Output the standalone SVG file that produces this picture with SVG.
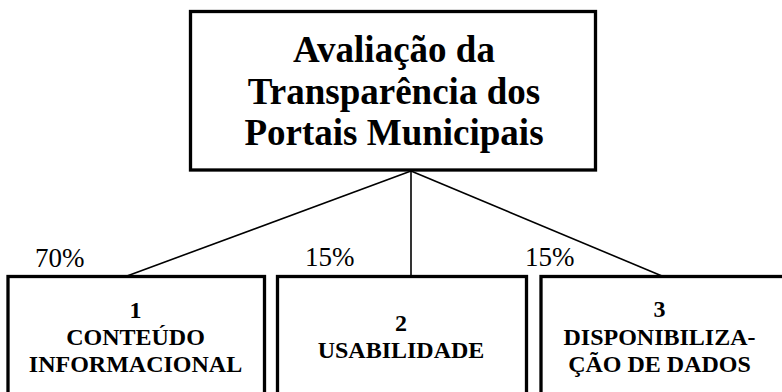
<svg xmlns="http://www.w3.org/2000/svg" width="782" height="392" viewBox="0 0 782 392">
<style>
.box{fill:#fff;stroke:#000;stroke-width:3.3}
.con{stroke:#000;stroke-width:1.6;fill:none}
</style>
<rect width="782" height="392" fill="#fff"/>
<g id="connectors">
<line class="con" x1="411" y1="171" x2="127" y2="276"/>
<line class="con" x1="411" y1="171" x2="411" y2="276"/>
<line class="con" x1="411" y1="171" x2="662" y2="276"/>
</g>
<g id="root">
<rect class="box" x="190.5" y="11.5" width="405" height="158.5"/>
<text x="394" y="62" font-family="Liberation Serif" font-size="37" font-weight="bold" text-anchor="middle">Avaliação da</text>
<text x="394" y="104" font-family="Liberation Serif" font-size="37" font-weight="bold" text-anchor="middle">Transparência dos</text>
<text x="394" y="145" font-family="Liberation Serif" font-size="37" font-weight="bold" text-anchor="middle">Portais Municipais</text>
</g>
<g id="node1">
<rect class="box" x="8" y="276.5" width="256.5" height="130"/>
<text x="135.5" y="318" font-family="Liberation Serif" font-size="24" font-weight="bold" text-anchor="middle">1</text>
<text x="135.5" y="345" font-family="Liberation Serif" font-size="24" font-weight="bold" text-anchor="middle">CONTEÚDO</text>
<text x="135.5" y="372" font-family="Liberation Serif" font-size="24" font-weight="bold" text-anchor="middle">INFORMACIONAL</text>
</g>
<g id="node2">
<rect class="box" x="277.5" y="276.5" width="249" height="130"/>
<text x="401" y="331" font-family="Liberation Serif" font-size="24" font-weight="bold" text-anchor="middle">2</text>
<text x="401" y="358" font-family="Liberation Serif" font-size="24" font-weight="bold" text-anchor="middle">USABILIDADE</text>
</g>
<g id="node3">
<rect class="box" x="541" y="276.5" width="249" height="130"/>
<text x="659.5" y="317" font-family="Liberation Serif" font-size="24" font-weight="bold" text-anchor="middle">3</text>
<text x="659.5" y="345" font-family="Liberation Serif" font-size="24" font-weight="bold" text-anchor="middle">DISPONIBILIZA-</text>
<text x="659.5" y="372" font-family="Liberation Serif" font-size="24" font-weight="bold" text-anchor="middle">ÇÃO DE DADOS</text>
</g>
<g id="weights">
<text x="35" y="267" font-family="Liberation Serif" font-size="27">70%</text>
<text x="305" y="266" font-family="Liberation Serif" font-size="27">15%</text>
<text x="525" y="266" font-family="Liberation Serif" font-size="27">15%</text>
</g>
</svg>
